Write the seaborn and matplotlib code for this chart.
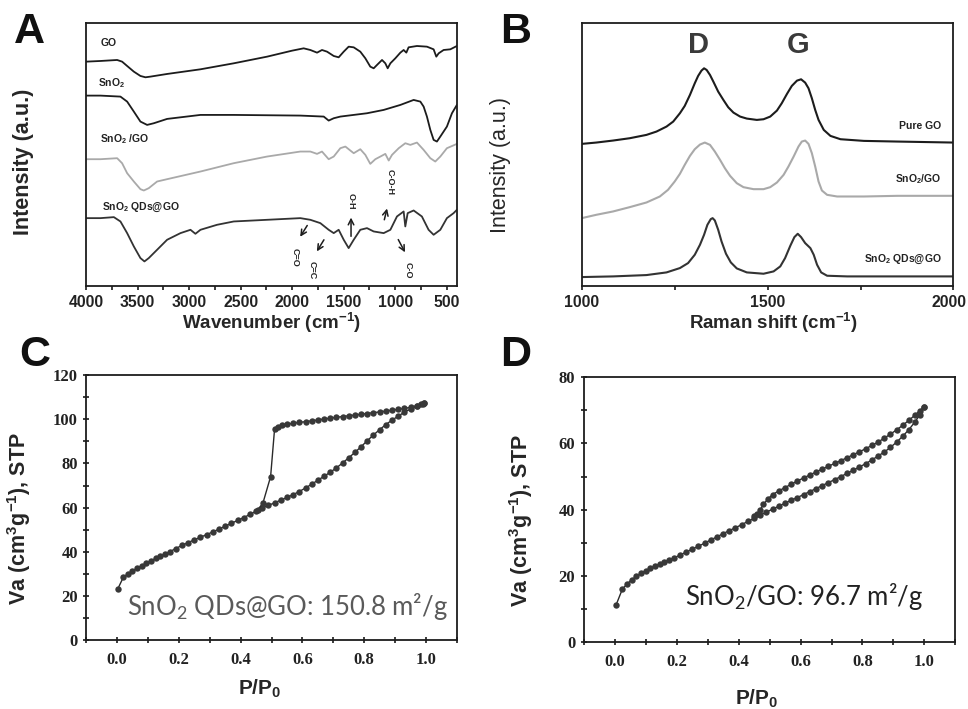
"""
Four-panel characterisation figure: FTIR (A), Raman (B) and N2 sorption
isotherms (C, D). Values read off the published figure.
"""

import matplotlib
matplotlib.use("Agg")
import matplotlib.pyplot as plt
import matplotlib.transforms as mtransforms
from matplotlib.font_manager import FontProperties
from matplotlib.ticker import MultipleLocator
import pandas as pd
import seaborn as sns

sns.set_theme(style="ticks")
plt.rcParams.update({
    "font.family": ["Liberation Sans", "DejaVu Sans"],
    "axes.linewidth": 1.3,
    "axes.edgecolor": "#1a1a1a",
    "xtick.color": "#1a1a1a",
    "ytick.color": "#1a1a1a",
})

BLACK = "#1c1c1c"
GREY = "#a9a9a9"
DARK = "#333333"

# ── A: FTIR (wavenumber cm-1, intensity a.u.) ─────────────────────────────────
go_wn = [4000, 3861, 3699, 3651, 3602, 3537, 3473, 3424, 3376, 3214, 2890, 2567, 2243,
         2000, 1888, 1823, 1758, 1710, 1661, 1596, 1548, 1499, 1451, 1402, 1338, 1289,
         1241, 1208, 1176, 1127, 1095, 1072, 1046, 998, 949, 917, 891, 869, 788, 691,
         626, 600, 577, 529, 464, 400]
go_int = [673, 675, 678, 673, 660, 643, 630, 626, 628, 636, 650, 668, 688,
          706, 713, 708, 700, 708, 703, 690, 686, 703, 718, 716, 703, 683,
          658, 653, 663, 678, 668, 653, 668, 683, 700, 708, 700, 716, 720, 718,
          710, 688, 698, 708, 710, 720]

sno2_wn = [4000, 3861, 3667, 3602, 3537, 3473, 3408, 3343, 3214, 2890, 2567, 2243, 1920,
           1693, 1645, 1596, 1532, 1273, 1111, 949, 820, 755, 723, 691, 658, 626, 594,
           561, 497, 448, 400]
sno2_int = [571, 571, 568, 553, 523, 493, 483, 488, 501, 513, 513, 512, 511,
            508, 496, 503, 508, 518, 528, 543, 558, 553, 538, 508, 468, 438, 433,
            448, 478, 518, 543]

sgo_wn = [4000, 3861, 3699, 3651, 3602, 3537, 3473, 3440, 3392, 3311, 3214, 2890, 2567,
          2243, 1920, 1823, 1758, 1710, 1645, 1596, 1532, 1483, 1402, 1338, 1289, 1241,
          1192, 1143, 1095, 1062, 1030, 965, 901, 852, 788, 723, 658, 610, 561, 497, 400]
sgo_int = [380, 380, 383, 368, 338, 313, 290, 286, 293, 313, 320, 343, 368,
           388, 403, 403, 396, 403, 380, 388, 413, 418, 398, 410, 393, 366,
           380, 388, 396, 376, 393, 413, 428, 423, 430, 408, 383, 373, 388, 413, 426]

qd_wn = [4000, 3861, 3731, 3667, 3602, 3537, 3473, 3434, 3392, 3311, 3214, 3084, 2987,
         2939, 2890, 2729, 2567, 2243, 1920, 1823, 1726, 1645, 1596, 1548, 1499, 1451,
         1402, 1338, 1273, 1208, 1111, 1046, 982, 917, 901, 878, 820, 740, 675, 626,
         561, 497, 432, 400]
qd_int = [203, 203, 206, 193, 158, 118, 83, 73, 83, 108, 138, 158, 168,
          156, 168, 183, 193, 198, 203, 198, 188, 168, 158, 168, 138, 113,
          138, 168, 173, 163, 158, 168, 208, 223, 178, 218, 226, 208, 168, 153,
          168, 203, 218, 228]

ftir_labels = ["GO", "SnO$\\mathregular{_2}$", "SnO$\\mathregular{_2}$ /GO",
               "SnO$\\mathregular{_2}$ QDs@GO"]
ftir_label_pos = [(3861, 728), (3884, 608), (3861, 440), (3845, 236)]

# band assignments: (label, arrow tail, arrow head, label position)
bands = [
    ("C=O", (1839, 188), (1936, 140), (1968, 86)),
    ("C=C", (1677, 145), (1774, 96), (1807, 46)),
    ("O-H", (1428, 140), (1428, 213), (1428, 253)),
    ("C-O-H", (1111, 190), (1072, 240), (1053, 313)),
    ("C-O", (982, 146), (891, 93), (878, 46)),
]

# ── B: Raman (shift cm-1, intensity a.u.) ─────────────────────────────────────
pure_shift = [1000, 1039, 1084, 1129, 1174, 1201, 1228, 1246, 1264, 1277,
              1291, 1304, 1313, 1322, 1329, 1336, 1345, 1354, 1367, 1381,
              1394, 1408, 1426, 1444, 1471, 1489, 1507, 1525, 1538, 1552,
              1565, 1579, 1590, 1601, 1610, 1619, 1628, 1637, 1651, 1669,
              1696, 1759, 1849, 2000]
pure_int = [426, 430, 436, 443, 453, 463, 478, 493, 518, 540,
            573, 608, 630, 646, 653, 648, 633, 613, 583, 558,
            536, 520, 508, 502, 498, 500, 508, 526, 548, 576,
            600, 616, 620, 610, 593, 563, 528, 498, 468, 450,
            440, 435, 433, 430]

sgo_shift = [1000, 1039, 1084, 1129, 1174, 1210, 1232, 1250, 1264, 1277,
             1291, 1304, 1318, 1331, 1345, 1358, 1372, 1385, 1399, 1417,
             1435, 1462, 1489, 1507, 1525, 1543, 1556, 1570, 1583, 1592,
             1601, 1610, 1619, 1628, 1637, 1646, 1660, 1687, 1759, 1849, 2000]
sgo_raman = [203, 213, 223, 236, 250, 268, 288, 313, 336, 363,
             390, 410, 424, 430, 423, 403, 378, 353, 330, 308,
             296, 290, 290, 296, 310, 333, 358, 388, 418, 433,
             436, 426, 398, 358, 313, 286, 273, 268, 268, 270, 270]

qd_shift = [1000, 1084, 1174, 1228, 1264, 1286, 1304, 1318, 1329, 1338,
            1347, 1352, 1358, 1367, 1376, 1388, 1401, 1417, 1444, 1489,
            1516, 1534, 1547, 1561, 1572, 1581, 1590, 1601, 1615, 1624,
            1633, 1644, 1660, 1714, 2000]
qd_raman = [26, 28, 32, 40, 53, 68, 93, 123, 153, 183,
            200, 203, 196, 168, 133, 96, 70, 52, 40, 36,
            43, 58, 83, 120, 146, 156, 146, 128, 113, 93,
            63, 40, 30, 28, 28]

raman_labels = ["Pure GO", "SnO$\\mathregular{_2}$/GO", "SnO$\\mathregular{_2}$ QDs@GO"]
raman_label_y = [480, 320, 80]

# ── C: SnO2 QDs@GO isotherm (P/P0, cm3/g STP) ─────────────────────────────────
c_ads_p = [0.003, 0.02, 0.035, 0.05, 0.065, 0.08, 0.095, 0.11, 0.125, 0.14, 0.155, 0.17,
           0.19, 0.21, 0.23, 0.25, 0.27, 0.29, 0.31, 0.33, 0.35, 0.37, 0.39, 0.41, 0.43,
           0.45, 0.47, 0.49, 0.51, 0.53, 0.55, 0.57, 0.59, 0.61, 0.63, 0.65, 0.67, 0.69,
           0.71, 0.73, 0.75, 0.77, 0.79, 0.81, 0.83, 0.85, 0.87, 0.89, 0.91, 0.93, 0.95,
           0.97, 0.985, 0.995]
c_ads_v = [23.4, 28.4, 30.0, 31.3, 32.5, 33.6, 34.8, 35.9, 37.0, 38.0, 39.0, 40.0,
           41.5, 42.9, 44.2, 45.4, 46.6, 47.8, 49.0, 50.3, 51.6, 52.9, 54.2, 55.5, 56.9,
           58.4, 59.8, 61.0, 62.2, 63.4, 64.6, 65.9, 67.3, 68.9, 70.6, 72.4, 74.2, 76.0,
           78.0, 80.2, 82.6, 85.0, 87.6, 90.3, 92.9, 95.3, 97.6, 99.6, 101.4, 103.2, 104.6,
           105.9, 106.7, 107.3]
c_des_p = [0.995, 0.99, 0.97, 0.95, 0.93, 0.91, 0.89, 0.87, 0.85, 0.83, 0.81, 0.79,
           0.77, 0.75, 0.73, 0.71, 0.69, 0.67, 0.65, 0.63, 0.61, 0.59, 0.57, 0.55,
           0.535, 0.52, 0.51, 0.497, 0.472, 0.455]
c_des_v = [107.3, 106.9, 106.0, 105.4, 104.9, 104.5, 104.1, 103.7, 103.3, 103.0, 102.6, 102.3,
           101.9, 101.6, 101.2, 100.9, 100.5, 100.1, 99.7, 99.3, 98.9, 98.6, 98.2, 97.7,
           97.2, 96.4, 95.8, 74.0, 62.0, 59.0]

# ── D: SnO2/GO isotherm ───────────────────────────────────────────────────────
d_ads_p = [0.005, 0.025, 0.04, 0.055, 0.07, 0.085, 0.10, 0.115, 0.13, 0.145, 0.16, 0.175,
           0.19, 0.21, 0.23, 0.25, 0.27, 0.29, 0.31, 0.33, 0.35, 0.37, 0.39, 0.41, 0.43,
           0.45, 0.47, 0.49, 0.51, 0.53, 0.55, 0.57, 0.59, 0.61, 0.63, 0.65, 0.67, 0.69,
           0.71, 0.73, 0.75, 0.77, 0.79, 0.81, 0.83, 0.85, 0.87, 0.89, 0.91, 0.93, 0.95,
           0.97, 0.985, 1.0]
d_ads_v = [11.4, 16.1, 17.6, 18.9, 19.9, 20.8, 21.6, 22.3, 23.0, 23.6, 24.2, 24.8,
           25.4, 26.3, 27.2, 28.1, 29.0, 29.9, 30.9, 31.8, 32.8, 33.7, 34.6, 35.5, 36.5,
           37.4, 38.4, 39.3, 40.2, 41.1, 42.0, 42.9, 43.7, 44.6, 45.5, 46.4, 47.3, 48.2,
           49.1, 50.0, 51.0, 51.9, 52.9, 53.9, 55.0, 56.2, 57.4, 58.8, 60.4, 62.2, 64.2,
           66.6, 68.6, 71.1]
d_des_p = [1.0, 0.985, 0.97, 0.95, 0.93, 0.91, 0.89, 0.87, 0.85, 0.83, 0.81, 0.79,
           0.77, 0.75, 0.73, 0.71, 0.69, 0.67, 0.65, 0.63, 0.61, 0.59, 0.57, 0.55,
           0.53, 0.51, 0.495, 0.48, 0.47, 0.46, 0.45]
d_des_v = [71.1, 69.9, 68.6, 67.0, 65.5, 64.1, 62.8, 61.6, 60.4, 59.4, 58.4, 57.5,
           56.6, 55.7, 54.8, 54.0, 53.1, 52.3, 51.4, 50.5, 49.6, 48.7, 47.7, 46.7,
           45.7, 44.6, 43.3, 41.6, 40.0, 38.8, 38.0]

fig = plt.figure(figsize=(9.68, 7.09), dpi=100)
fig.patch.set_facecolor("white")

LABEL = dict(fontsize=13.5, fontweight="bold")
VLABEL = dict(fontsize=15.5, fontweight="bold")


def _frame(ax):
    for s in ax.spines.values():
        s.set_visible(True)
        s.set_color(BLACK)


def _bold_ticks(ax, size=11.3):
    for t in ax.get_xticklabels():
        t.set_fontweight("bold")
        t.set_fontsize(size)
        t.set_color("#222222")


# A ------------------------------------------------------------------------------
axA = fig.add_axes([0.089, 0.597, 0.383, 0.371])
for wn, val, col in [(go_wn, go_int, BLACK), (sno2_wn, sno2_int, BLACK),
                     (sgo_wn, sgo_int, GREY), (qd_wn, qd_int, DARK)]:
    sns.lineplot(x=wn, y=val, ax=axA, color=col, lw=1.3, sort=False, estimator=None)
axA.set_xlim(4000, 400)
axA.set_ylim(0, 790)
axA.set_yticks([])
axA.xaxis.set_major_locator(MultipleLocator(500))
axA.xaxis.set_minor_locator(MultipleLocator(250))
axA.tick_params(axis="x", which="both", direction="out", length=3, width=1.2)
_bold_ticks(axA)
for lab, (x, y) in zip(ftir_labels, ftir_label_pos):
    axA.text(x, y, lab, fontsize=7.5, fontweight="bold", color="#222222", va="center")
for lab, tail, head, lpos in bands:
    axA.annotate("", xy=head, xytext=tail,
                 arrowprops=dict(arrowstyle="->", lw=1.1, color=BLACK, mutation_scale=10))
    axA.text(lpos[0], lpos[1], lab, rotation=-90, fontsize=6.5, fontweight="bold",
             ha="center", va="center", color="#222222")
axA.set_xlabel("Wavenumber (cm$\\mathregular{^{-1}}$)", **LABEL)
axA.set_ylabel("Intensity (a.u.)", **VLABEL)
axA.xaxis.set_label_coords(0.5, -0.095)
axA.yaxis.set_label_coords(-0.14, 0.47)
_frame(axA)

# B ------------------------------------------------------------------------------
axB = fig.add_axes([0.601, 0.597, 0.384, 0.371])
for sh, val, col in [(pure_shift, pure_int, BLACK), (sgo_shift, sgo_raman, GREY),
                     (qd_shift, qd_raman, DARK)]:
    sns.lineplot(x=sh, y=val, ax=axB, color=col, lw=1.5, sort=False, estimator=None)
axB.set_xlim(1000, 2000)
axB.set_ylim(0, 790)
axB.set_yticks([])
axB.set_xticks([1000, 1500, 2000])
axB.xaxis.set_minor_locator(MultipleLocator(250))
axB.tick_params(axis="x", which="both", direction="out", length=3, width=1.2)
_bold_ticks(axB)
# the last label sits against the figure edge, as in the original: right-align it
last = axB.get_xticklabels()[-1]
last.set_horizontalalignment("right")
last.set_transform(last.get_transform() + mtransforms.ScaledTranslation(13 / 100, 0, fig.dpi_scale_trans))
for lab, y in zip(raman_labels, raman_label_y):
    axB.text(1968, y, lab, fontsize=7.5, fontweight="bold", ha="right", va="center",
             color="#222222")
axB.text(1313, 723, "D", fontsize=21, fontweight="bold", ha="center", va="center", color="#3a3a3a")
axB.text(1583, 723, "G", fontsize=21, fontweight="bold", ha="center", va="center", color="#3a3a3a")
axB.set_xlabel("Raman shift (cm$\\mathregular{^{-1}}$)", **LABEL)
axB.set_ylabel("Intensity (a.u.)", fontsize=15.5)
axB.xaxis.set_label_coords(0.515, -0.095)
axB.yaxis.set_label_coords(-0.19, 0.46)
_frame(axB)


def _isotherm(ax, ads_p, ads_v, des_p, des_v, ymax, ystep):
    iso = pd.concat([
        pd.DataFrame({"p": ads_p, "v": ads_v, "branch": "ads"}),
        pd.DataFrame({"p": des_p, "v": des_v, "branch": "des"}),
    ])
    sns.lineplot(data=iso, x="p", y="v", units="branch", estimator=None, sort=False,
                 ax=ax, color="#2a2a2a", lw=1.0, marker="o", markersize=4.6,
                 markeredgewidth=0, markerfacecolor="#383838")
    ax.set_xlim(-0.1, 1.1)
    ax.set_ylim(0, ymax)
    ax.xaxis.set_minor_locator(MultipleLocator(0.1))
    ax.yaxis.set_major_locator(MultipleLocator(ystep))
    ax.yaxis.set_minor_locator(MultipleLocator(ystep / 2))
    ax.set_xticks([0.0, 0.2, 0.4, 0.6, 0.8, 1.0])
    ax.set_xticklabels(["0.0", "0.2", "0.4", "0.6", "0.8", "1.0"])
    ax.tick_params(axis="both", which="major", direction="inout", length=5, width=1.2)
    ax.tick_params(axis="both", which="minor", direction="inout", length=4, width=1.2)
    ax.tick_params(axis="x", pad=6)
    serif = FontProperties(family=["Liberation Serif", "DejaVu Serif"], weight="bold", size=12)
    for t in ax.get_xticklabels() + ax.get_yticklabels():
        t.set_fontproperties(serif)
        t.set_color("#222222")
    ax.set_xlabel("P/P$\\mathregular{_0}$", fontsize=15, fontweight="bold")
    ax.set_ylabel("Va (cm$\\mathregular{^3}$g$\\mathregular{^{-1}}$), STP", **VLABEL)
    _frame(ax)


# C ------------------------------------------------------------------------------
axC = fig.add_axes([0.089, 0.097, 0.383, 0.374])
_isotherm(axC, c_ads_p, c_ads_v, c_des_p, c_des_v, 120, 20)
axC.xaxis.set_label_coords(0.469, -0.14)
axC.yaxis.set_label_coords(-0.143, 0.46)
axC.text(0.033, 11.3, "SnO$\\mathregular{_2}$ QDs@GO: 150.8 m²/g", family=["Lato", "DejaVu Sans"],
         fontsize=18.5, color="#5a5a5a", va="baseline")

# D ------------------------------------------------------------------------------
axD = fig.add_axes([0.603, 0.094, 0.384, 0.374])
_isotherm(axD, d_ads_p, d_ads_v, d_des_p, d_des_v, 80, 20)
axD.xaxis.set_label_coords(0.466, -0.17)
axD.yaxis.set_label_coords(-0.132, 0.46)
axD.text(0.227, 11.2, "SnO$\\mathregular{_2}$/GO: 96.7 m²/g", family=["Lato", "DejaVu Sans"],
         fontsize=18.5, color="#222222", va="baseline")

# panel letters
for letter, x, y in [("A", 0.0145, 0.983), ("B", 0.517, 0.983),
                     ("C", 0.02, 0.527), ("D", 0.517, 0.527)]:
    fig.text(x, y, letter, fontsize=31, fontweight="bold", ha="left", va="top", color="#111111")

fig.savefig("out.png", dpi=100, facecolor="white")
plt.close(fig)
